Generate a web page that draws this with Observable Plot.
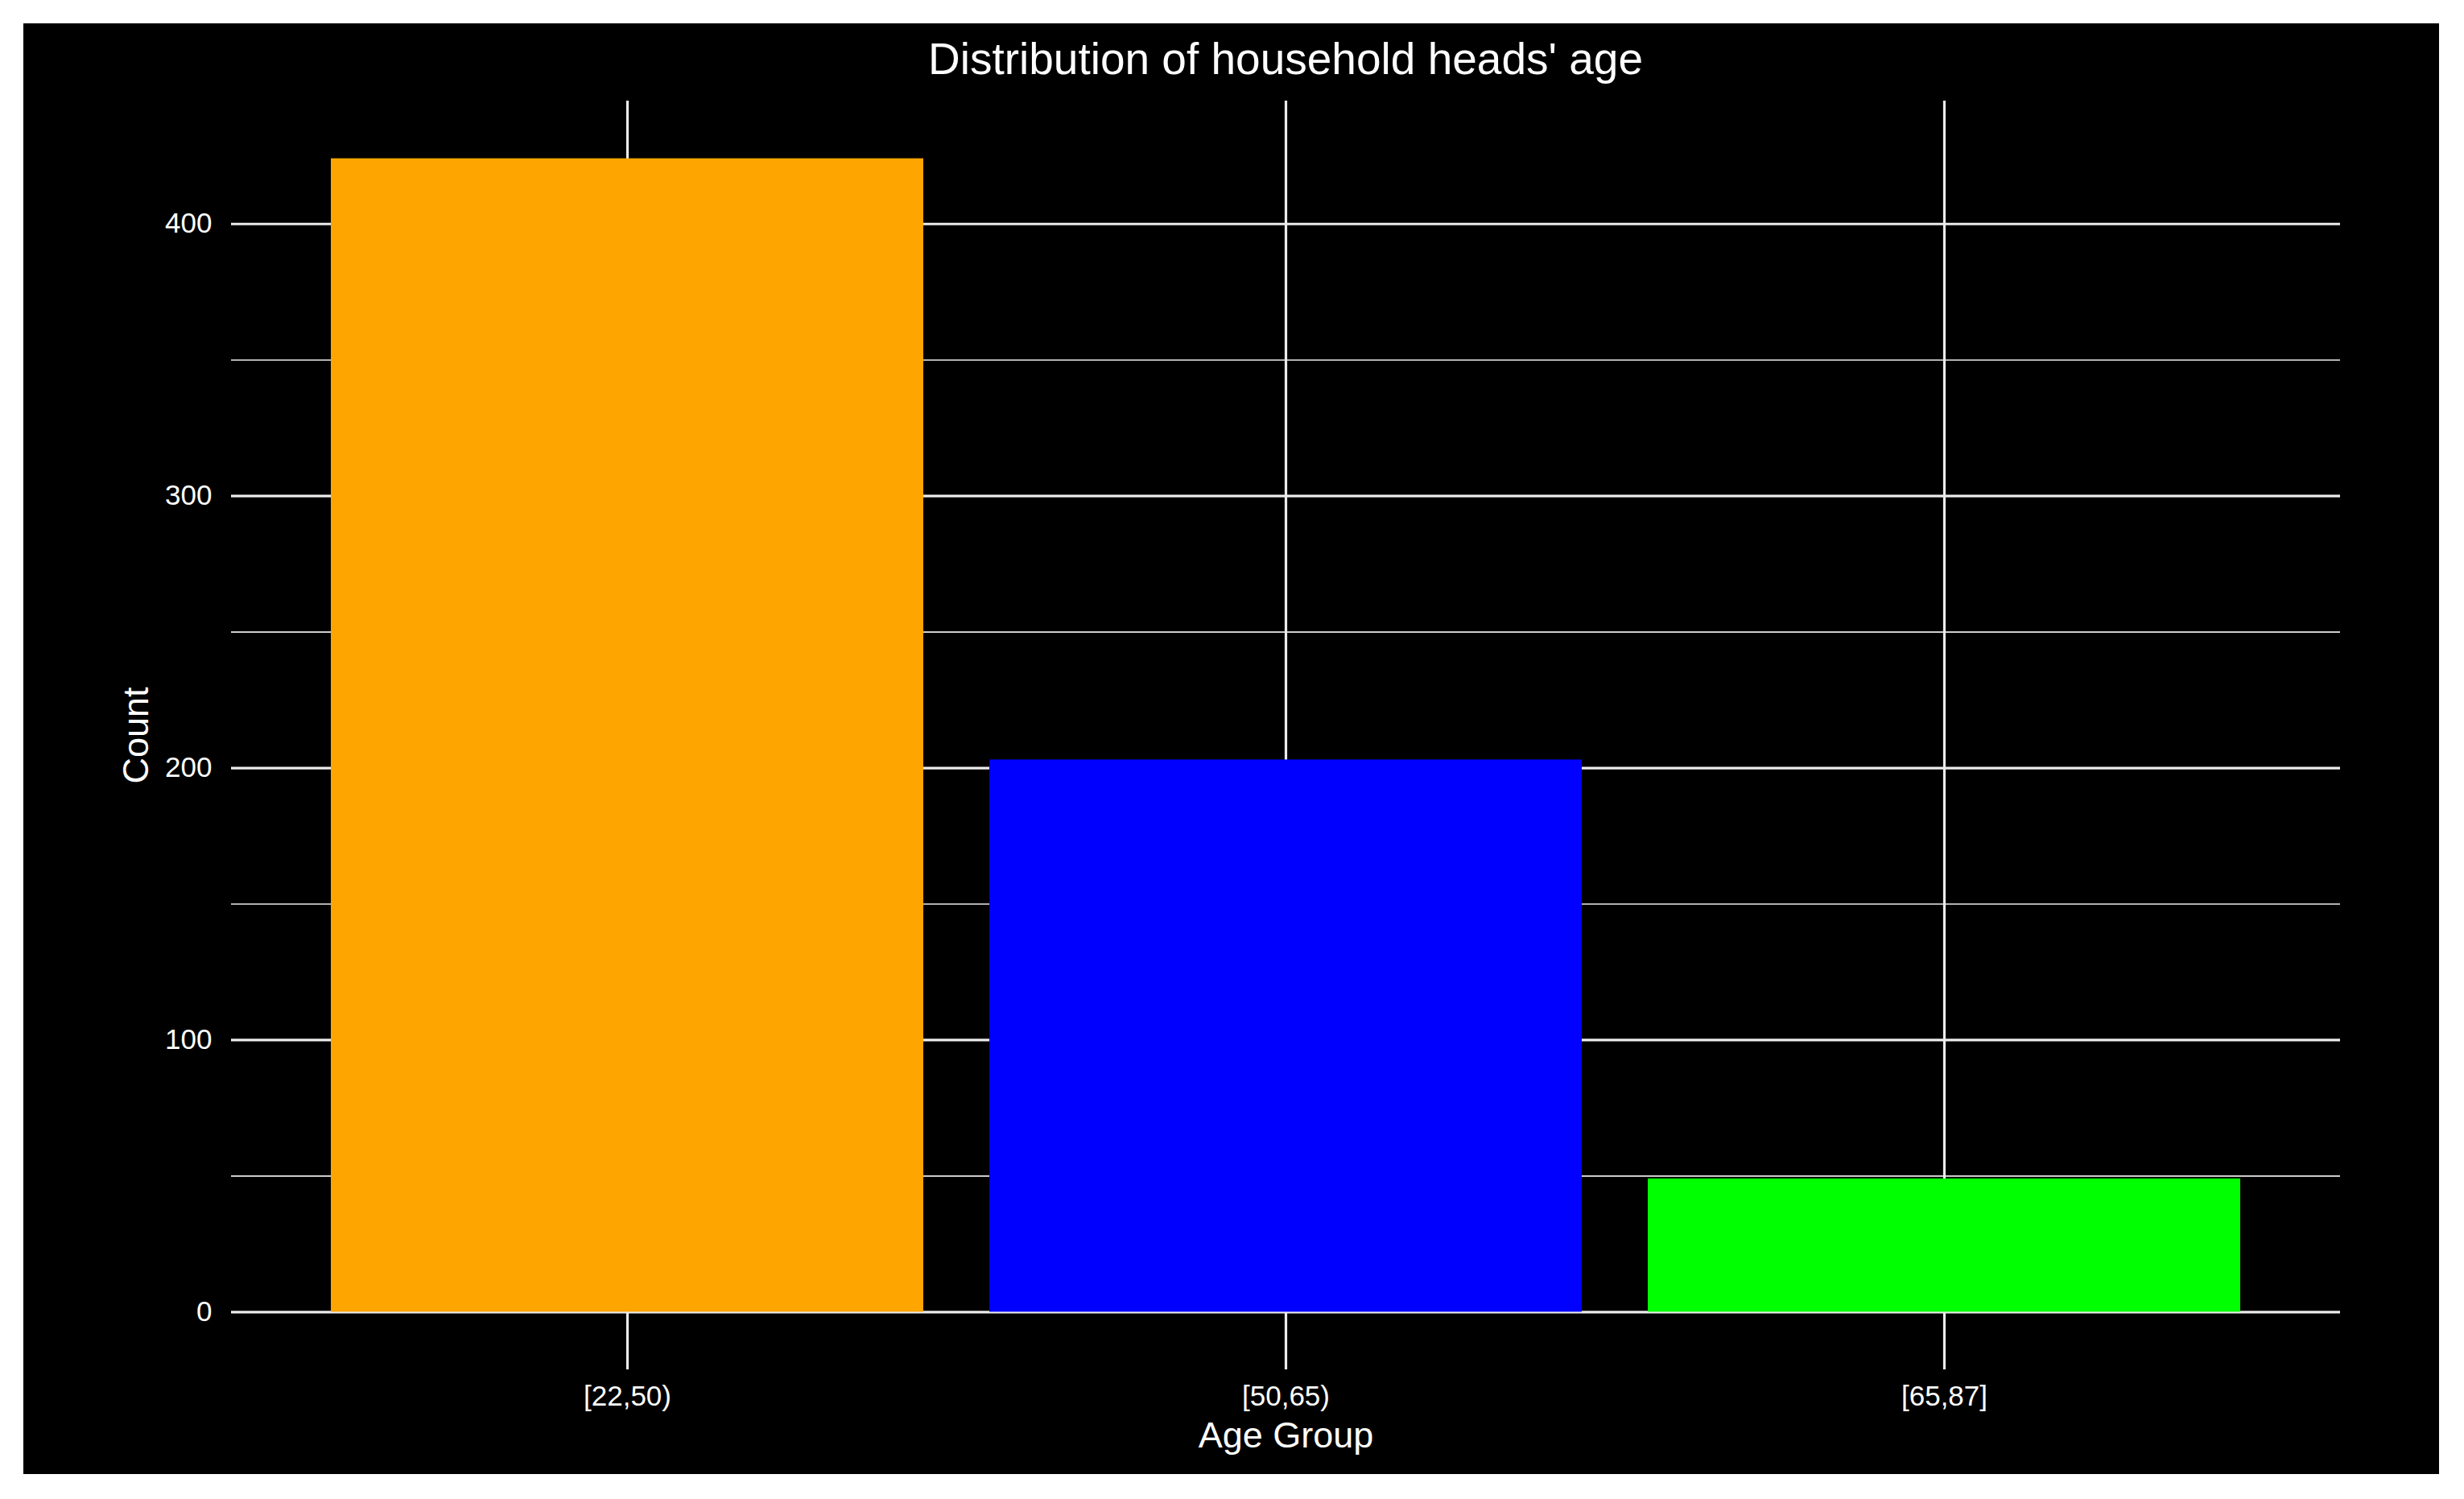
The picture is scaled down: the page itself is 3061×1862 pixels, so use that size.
<!DOCTYPE html>
<html>
<head>
<meta charset="utf-8">
<script src="https://cdn.jsdelivr.net/npm/d3@7"></script>
<script src="https://cdn.jsdelivr.net/npm/@observablehq/plot@0.6"></script>
<style>
  html, body { margin: 0; padding: 0; background: #ffffff; }
  #frame {
    position: absolute; left: 29px; top: 29px; width: 3001px; height: 1802px;
    background: #000000; overflow: hidden;
    font-family: "Liberation Sans", Arial, Helvetica, sans-serif;
  }
  #title {
    height: 80px; box-sizing: border-box; padding-top: 7px; line-height: 74px;
    font-size: 55px; color: #ffffff; white-space: nowrap;
    padding-left: 258px; padding-right: 123px; text-align: center;
  }
  #chart svg { display: block; }
</style>
</head>
<body>
<div id="frame">
  <div id="title">Distribution of household heads' age</div>
  <div id="chart"></div>
</div>
<script>
// ---- data ----
const ageGroups = ["[22,50)", "[50,65)", "[65,87]"];
const counts = [424, 203, 49];
const barColors = ["#FFA500", "#0000FF", "#00FF00"];
const yMajorTicks = [0, 100, 200, 300, 400];
const yMinorTicks = [50, 150, 250, 350];
const xLabel = "Age Group";
const yLabel = "Count";

const data = ageGroups.map((g, i) => ({group: g, count: counts[i]}));
const maxCount = d3.max(counts);
const pad = maxCount * 0.05;

const gridColor = "#ebebeb";
const fontFamily = '"Liberation Sans", Arial, Helvetica, sans-serif';

const chart = Plot.plot({
  width: 3001,
  height: 1722,
  marginTop: 16,
  marginBottom: 130,
  marginLeft: 258,
  marginRight: 123,
  style: {background: "#000000", color: "#ffffff", fontFamily, overflow: "visible"},
  x: {domain: ageGroups, paddingInner: 0.1, paddingOuter: 0.15, axis: null},
  y: {domain: [-pad, maxCount + pad], axis: null},
  color: {domain: ageGroups, range: barColors},
  marks: [
    Plot.ruleY(yMinorTicks, {y: d => d, stroke: gridColor, strokeWidth: 1.6}),
    Plot.ruleY(yMajorTicks, {y: d => d, stroke: gridColor, strokeWidth: 3.2}),
    Plot.ruleX(ageGroups, {x: d => d, stroke: gridColor, strokeWidth: 3.2}),
    Plot.barY(data, {x: "group", y: "count", fill: "group"}),
    Plot.axisY(yMajorTicks, {tickSize: 0, tickPadding: 24, fontSize: 35, fill: "#ffffff", label: null}),
    Plot.axisX({tickSize: 0, tickPadding: 20, fontSize: 35, fill: "#ffffff", label: null}),
    Plot.text([yLabel], {frameAnchor: "left", textAnchor: "middle", rotate: -90, dx: -104, lineAnchor: "bottom", fontSize: 45, fill: "#ffffff"}),
    Plot.text([xLabel], {frameAnchor: "bottom", textAnchor: "middle", dy: 96, lineAnchor: "bottom", fontSize: 45, fill: "#ffffff"})
  ]
});
document.getElementById("chart").appendChild(chart);
</script>
</body>
</html>
